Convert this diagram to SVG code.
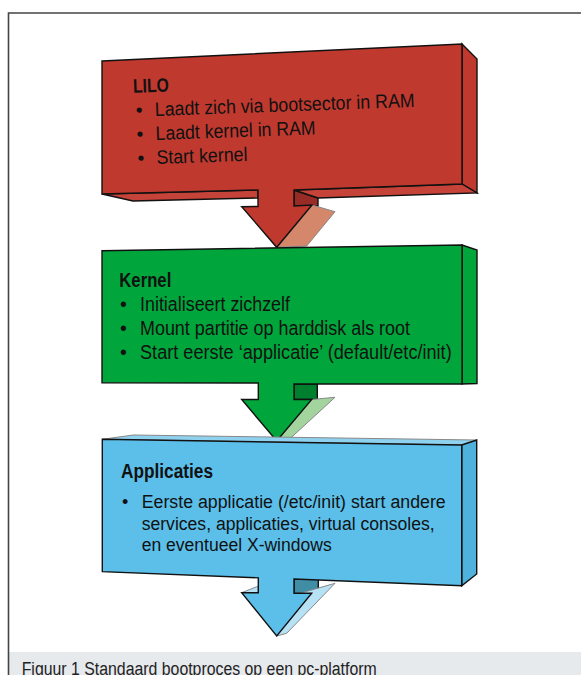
<svg xmlns="http://www.w3.org/2000/svg" width="581" height="675" viewBox="0 0 581 675">
<style>
.ol{stroke:#111;stroke-width:1.4;stroke-linejoin:miter}
.sh{stroke:#888;stroke-width:1}
.t{font-family:"Liberation Sans",Arial,sans-serif;font-size:19.5px;fill:#111}
.tb{font-size:18px}
.b{font-weight:bold}
.cap{font-family:"Liberation Sans",Arial,sans-serif;font-size:18px;fill:#222}
</style>
<rect x="0" y="0" width="581" height="675" fill="#fff"/>
<g id="frame">
<rect x="9" y="652" width="572" height="23" fill="#E7EAED"/>
<path d="M8.5 675 V13 H581" fill="none" stroke="#444" stroke-width="1.6"/>
<text class="cap" x="21.7" y="675" textLength="355" lengthAdjust="spacingAndGlyphs">Figuur 1  Standaard bootproces op een pc-platform</text>
</g>
<g id="connectors">
<polygon points="294,190 318,198 318,206 294,206" fill="#992B27" class="ol"/>
<polygon points="312,205 335,211.7 306.7,246 276.7,247.3" fill="#D4876A" class="sh"/>
<polygon points="294,384 317.3,384 317.3,399.5 294,399.5" fill="#00802F" class="ol"/>
<polygon points="311.7,399.5 335,397.3 286.7,441.7 276.7,441.7" fill="#A3D49E" class="sh"/>
<polygon points="294,578.5 318.3,578.5 318.3,594 294,595" fill="#3F8EA6" class="ol"/>
<polygon points="294,595 335,583.3 286.7,633.3 276.7,636 311.7,593.3" fill="#B7E1F5" class="sh"/>
<polygon points="241.7,592.7 256.7,586.7 258.3,586.7 258.3,593.3" fill="#B7E1F5" class="sh"/>
</g>
<g id="lilo">
<polygon points="462,44 477,59 477,193 462,184" fill="#C0392F" class="ol"/>
<polygon points="102,194 258,190 258,198 133,201" fill="#C6433A" class="ol"/>
<polygon points="294,190 462,184 477,193 318,198" fill="#C6433A" class="ol"/>
<polygon points="102,61 462,44 462,184 294,190 294,206 312,205 276.7,247.3 241.7,206.7 258,206.5 258,190 102,194" fill="#C0392F" class="ol"/>
<g transform="rotate(-2 155 116)">
<text class="t b" x="134" y="92" textLength="36" lengthAdjust="spacingAndGlyphs">LILO</text>
<text class="t" x="136" y="116">•</text>
<text class="t" x="155" y="116" textLength="260" lengthAdjust="spacingAndGlyphs">Laadt zich via bootsector in RAM</text>
<text class="t" x="136" y="140">•</text>
<text class="t" x="155" y="140" textLength="160" lengthAdjust="spacingAndGlyphs">Laadt kernel in RAM</text>
<text class="t" x="136" y="164">•</text>
<text class="t" x="155" y="164" textLength="91" lengthAdjust="spacingAndGlyphs">Start kernel</text>
</g>
</g>
<g id="kernel">
<polygon points="462,245 477,250 477,383.5 462,384" fill="#00A63B" class="ol"/>
<polygon points="102,250.7 462,245 462,384 294,384 294,399.5 311.7,399.5 276.7,441 241.7,399.5 258.3,399.5 258.3,383 102,382.7" fill="#00A63B" class="ol"/>
<text class="t b" x="119.3" y="287" textLength="52" lengthAdjust="spacingAndGlyphs">Kernel</text>
<text class="t" x="120" y="311">•</text>
<text class="t" x="140" y="311" textLength="150" lengthAdjust="spacingAndGlyphs">Initialiseert zichzelf</text>
<text class="t" x="120" y="334.5">•</text>
<text class="t" x="140" y="334.5" textLength="270" lengthAdjust="spacingAndGlyphs">Mount partitie op harddisk als root</text>
<text class="t" x="120" y="358.5">•</text>
<text class="t" x="140" y="358.5" textLength="311.7" lengthAdjust="spacingAndGlyphs">Start eerste ‘applicatie’ (default/etc/init)</text>
</g>
<g id="applicaties">
<polygon points="102.3,439.3 133.3,435 476.7,440 461.7,445" fill="#8ED2F0" class="sh"/>
<polygon points="461.7,445 476.7,440 476.7,574 461.7,585.7" fill="#4FB2DC" class="ol"/>
<polygon points="102.3,439.3 461.7,445 461.7,585.7 294,579 294,593.3 311.7,593.3 276.7,636 241.7,592.7 258.3,592.7 258.3,577.8 102.3,571.7" fill="#5BBFEA" class="ol"/>
<text class="t b" x="121" y="478.3" textLength="92" lengthAdjust="spacingAndGlyphs">Applicaties</text>
<text class="t tb" x="122" y="508">•</text>
<text class="t tb" x="141.7" y="508" textLength="304" lengthAdjust="spacingAndGlyphs">Eerste applicatie (/etc/init) start andere</text>
<text class="t tb" x="141.7" y="529.5" textLength="293" lengthAdjust="spacingAndGlyphs">services, applicaties, virtual consoles,</text>
<text class="t tb" x="141.7" y="551" textLength="190" lengthAdjust="spacingAndGlyphs">en eventueel X-windows</text>
</g>
</svg>
